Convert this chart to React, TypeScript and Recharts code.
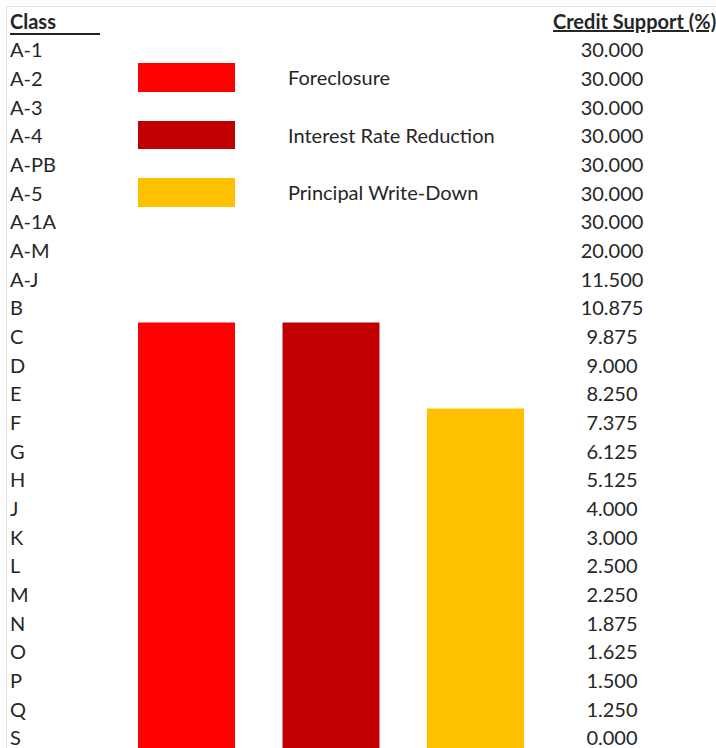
import { BarChart, Bar, XAxis, YAxis, Cell, Legend } from 'recharts'

const classes = [
  'A-1', 'A-2', 'A-3', 'A-4', 'A-PB', 'A-5', 'A-1A', 'A-M', 'A-J', 'B', 'C', 'D', 'E',
  'F', 'G', 'H', 'J', 'K', 'L', 'M', 'N', 'O', 'P', 'Q', 'S',
]
const creditSupport = [
  30, 30, 30, 30, 30, 30, 30, 20, 11.5, 10.875, 9.875, 9, 8.25,
  7.375, 6.125, 5.125, 4, 3, 2.5, 2.25, 1.875, 1.625, 1.5, 1.25, 0,
]
const scenarios = ['Foreclosure', 'Interest Rate Reduction', 'Principal Write-Down']
// first class reached by the losses in each scenario
const firstClassHit = ['C', 'C', 'F']
const legendRows = ['A-2', 'A-4', 'A-5']
const colors = ['#FF0000', '#C00000', '#FFC000']

const ROW_TOP = 35.8
const ROW_H = 28.67
const FONT = 'Lato, "Open Sans", sans-serif'
const FS = 20
const TEXT = '#262626'

const data = scenarios.map((name, i) => ({
  name,
  span: [classes.indexOf(firstClassHit[i]), classes.length],
}))

const ticks = classes.map((_, i) => i + 0.5)

// one tick draws the class name on the left and its credit support on the right
function RowTick({ y, payload }: any) {
  const i = Math.floor(payload.value)
  return (
    <g fontSize={FS} fontFamily={FONT} fill={TEXT}>
      <text x={10} y={y} dy="0.36em">
        {classes[i]}
      </text>
      <text x={612} y={y} dy="0.36em" textAnchor="middle">
        {creditSupport[i].toFixed(3)}
      </text>
    </g>
  )
}

function LegendBoxes() {
  return (
    <div style={{ position: 'relative', width: 716, height: 220 }}>
      {scenarios.map((name, i) => {
        const top = ROW_TOP + classes.indexOf(legendRows[i]) * ROW_H - 1
        return (
          <div key={name}>
            <div
              style={{ position: 'absolute', left: 138, top, width: 97, height: ROW_H, background: colors[i] }}
            />
            <div
              style={{
                position: 'absolute', left: 288, top, height: ROW_H, lineHeight: `${ROW_H}px`,
                fontSize: FS, fontFamily: FONT, color: TEXT, whiteSpace: 'nowrap',
              }}
            >
              {name}
            </div>
          </div>
        )
      })}
    </div>
  )
}

export default function App() {
  return (
    <div
      style={{
        position: 'absolute', left: 0, top: 0, width: 716, height: 748, overflow: 'hidden',
        background: '#fff',
      }}
    >
      <div
        style={{
          position: 'absolute', left: 6, top: 6, right: 0, bottom: 0,
          borderTop: '1px solid #e4e4e4', borderLeft: '1px solid #e4e4e4',
        }}
      />
      <div
        style={{
          position: 'absolute', left: 10, top: 9, width: 90, height: 24, fontFamily: FONT,
          fontWeight: 700, fontSize: FS, color: TEXT, borderBottom: '2px solid #222', lineHeight: '24px',
        }}
      >
        Class
      </div>
      <div
        style={{
          position: 'absolute', left: 553, top: 9, height: 24, fontFamily: FONT, fontWeight: 700,
          fontSize: FS, color: TEXT, textDecoration: 'underline', lineHeight: '24px', whiteSpace: 'nowrap',
        }}
      >
        Credit Support (%)
      </div>
      <BarChart
        width={716}
        height={760}
        data={data}
        margin={{ top: ROW_TOP, right: 168.5, bottom: 760 - ROW_TOP - ROW_H * classes.length, left: 0 }}
        barSize={97}
      >
        <XAxis dataKey="name" hide />
        <YAxis
          type="number"
          domain={[0, classes.length]}
          reversed
          ticks={ticks}
          interval={0}
          width={114}
          axisLine={false}
          tickLine={false}
          tick={<RowTick />}
        />
        <Legend
          layout="horizontal"
          verticalAlign="middle"
          align="center"
          content={<LegendBoxes />}
          wrapperStyle={{ left: 0, top: 0, width: 716 }}
        />
        <Bar dataKey="span" isAnimationActive={false}>
          {data.map((d, i) => (
            <Cell key={d.name} fill={colors[i]} />
          ))}
        </Bar>
      </BarChart>
    </div>
  )
}
